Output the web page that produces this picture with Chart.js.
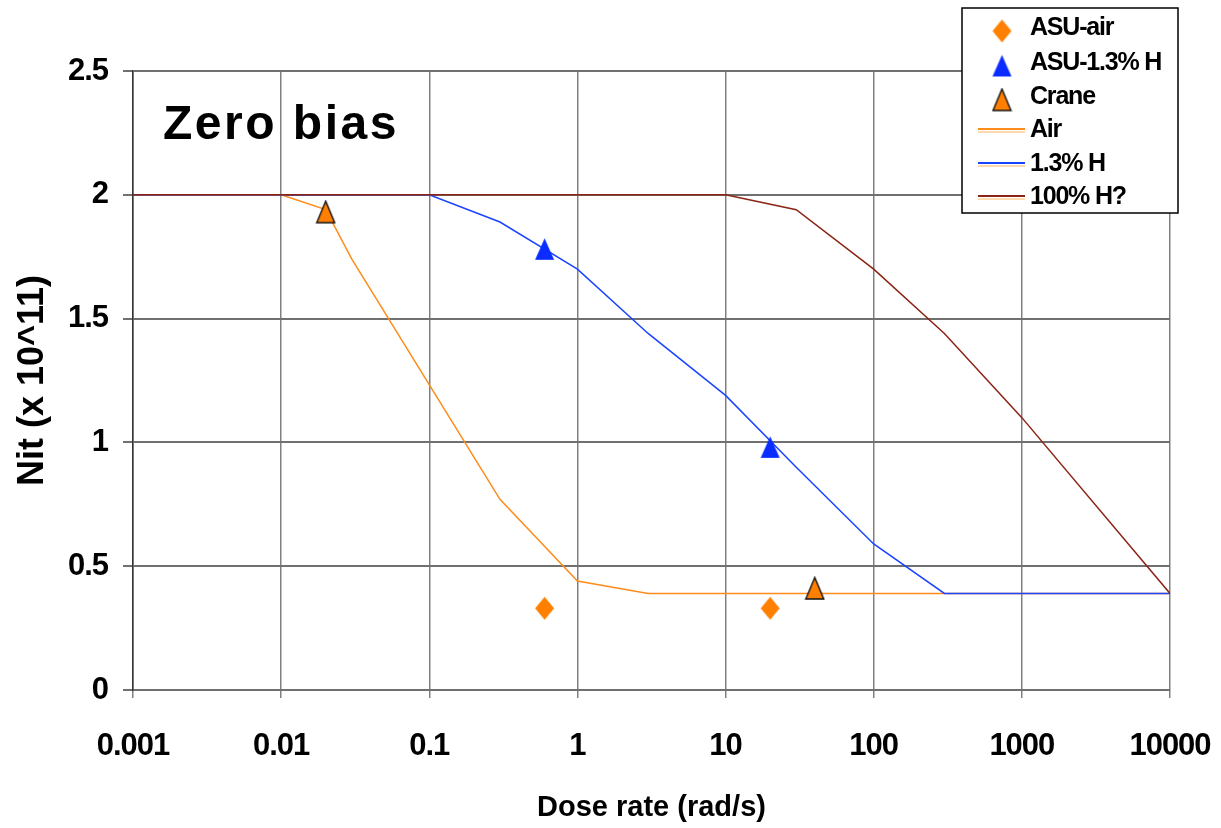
<!DOCTYPE html>
<html>
<head>
<meta charset="utf-8">
<script src="https://cdn.jsdelivr.net/npm/chart.js@4/dist/chart.umd.min.js"></script>
<style>
html,body{margin:0;padding:0;background:#fff;}
#wrap{width:1221px;height:828px;position:relative;}
</style>
</head>
<body>
<div id="wrap"><canvas id="c" width="1221" height="828"></canvas></div>
<script>
// ---- data ----
const doseTicks = [0.001, 0.01, 0.1, 1, 10, 100, 1000, 10000];
const xTickLabels = ['0.001', '0.01', '0.1', '1', '10', '100', '1000', '10000'];
const yTickLabels = ['0', '0.5', '1', '1.5', '2', '2.5'];

const asuAirX = [0.6, 20];
const asuAirY = [0.33, 0.33];
const asuH13X = [0.6, 20];
const asuH13Y = [1.78, 0.98];
const craneX = [0.02, 40];
const craneY = [1.93, 0.41];

const airX = [0.001, 0.01, 0.02, 0.03, 0.3, 1, 3, 10000];
const airY = [2, 2, 1.94, 1.74, 0.77, 0.44, 0.39, 0.39];
const h13X = [0.001, 0.1, 0.3, 1, 3, 10, 30, 100, 300, 10000];
const h13Y = [2, 2, 1.89, 1.70, 1.44, 1.19, 0.90, 0.59, 0.39, 0.39];
const h100X = [0.001, 10, 30, 100, 300, 1000, 10000];
const h100Y = [2, 2, 1.94, 1.70, 1.44, 1.10, 0.39];

const seriesNames = ['ASU-air', 'ASU-1.3% H', 'Crane', 'Air', '1.3% H', '100% H?'];
const chartTitle = 'Zero bias';
const xTitle = 'Dose rate (rad/s)';
const yTitle = 'Nit (x 10^11)';

// ---- styling ----
const ORANGE = '#FF8000';
const BLUE = '#0A2CFF';
const L_ORANGE = '#FF8C1A';
const L_BLUE = '#1A44FF';
const L_BROWN = '#8B2415';
const REG = "'Liberation Sans', Arial, sans-serif";

// tighter letter spacing for tick labels (reference uses a condensed face)
const origDrawLabels = Chart.Scale.prototype.drawLabels;
Chart.Scale.prototype.drawLabels = function (area) {
  const ctx = this.ctx;
  ctx.save();
  try { ctx.letterSpacing = '-1px'; } catch (e) {}
  origDrawLabels.call(this, area);
  ctx.restore();
};

function pts(xs, ys) { return xs.map((x, i) => ({x: x, y: ys[i]})); }

function makeMarker(kind) {
  const c = document.createElement('canvas');
  const w = 21, h = 25;
  c.width = w; c.height = h;
  const g = c.getContext('2d');
  g.beginPath();
  if (kind === 'diamond') {
    g.moveTo(w / 2, 1); g.lineTo(w - 1, h / 2); g.lineTo(w / 2, h - 1); g.lineTo(1, h / 2);
    g.closePath();
    g.fillStyle = ORANGE; g.fill();
  } else if (kind === 'blueTri') {
    g.moveTo(w / 2, 1.5); g.lineTo(w - 1, h - 2); g.lineTo(1, h - 2);
    g.closePath();
    g.fillStyle = BLUE; g.fill();
  } else {
    g.moveTo(w / 2, 1.5); g.lineTo(w - 1.5, h - 2); g.lineTo(1.5, h - 2);
    g.closePath();
    g.fillStyle = ORANGE; g.fill();
    g.lineWidth = 1.4; g.strokeStyle = '#111'; g.stroke();
  }
  return c;
}
const mkDiamond = makeMarker('diamond');
const mkBlueTri = makeMarker('blueTri');
const mkCrane = makeMarker('crane');

const overlay = {
  id: 'overlay',
  afterDraw(chart) {
    const ctx = chart.ctx;
    ctx.save();
    // title inside plot
    ctx.fillStyle = '#000';
    ctx.font = 'bold 48px ' + REG;
    ctx.textBaseline = 'alphabetic';
    ctx.textAlign = 'left';
    try { ctx.letterSpacing = '2.5px'; } catch (e) {}
    ctx.fillText(chartTitle, 163, 139);
    try { ctx.letterSpacing = '0px'; } catch (e) {}

    // legend box
    const bx = 962, by = 8, bw = 216, bh = 205;
    ctx.fillStyle = '#fff';
    ctx.fillRect(bx, by, bw, bh);
    ctx.lineWidth = 1.5;
    ctx.strokeStyle = '#000';
    ctx.strokeRect(bx, by, bw, bh);

    const rows = [27, 62, 96, 129, 163, 196];
    const markers = [mkDiamond, mkBlueTri, mkCrane];
    const lineCols = [L_ORANGE, L_BLUE, L_BROWN];
    ctx.font = 'bold 25px ' + REG;
    ctx.textBaseline = 'middle';
    ctx.textAlign = 'left';
    for (let i = 0; i < 6; i++) {
      const y = rows[i];
      if (i < 3) {
        const m = markers[i];
        ctx.drawImage(m, 1002 - m.width / 2, y + 4 - m.height / 2);
      } else {
        ctx.lineWidth = 1.8;
        ctx.strokeStyle = '#FFD9B0';
        ctx.beginPath(); ctx.moveTo(978, y + 3); ctx.lineTo(1025, y + 3); ctx.stroke();
        ctx.strokeStyle = lineCols[i - 3];
        ctx.beginPath(); ctx.moveTo(978, y); ctx.lineTo(1025, y); ctx.stroke();
      }
      ctx.fillStyle = '#000';
      try { ctx.letterSpacing = '-1.2px'; } catch (e) {}
      ctx.fillText(seriesNames[i], 1030, y + 1);
    }
    ctx.restore();
  }
};

new Chart(document.getElementById('c'), {
  type: 'scatter',
  data: {
    datasets: [
      {label: seriesNames[0], data: pts(asuAirX, asuAirY), pointStyle: mkDiamond, showLine: false, order: 0},
      {label: seriesNames[1], data: pts(asuH13X, asuH13Y), pointStyle: mkBlueTri, showLine: false, order: 0},
      {label: seriesNames[2], data: pts(craneX, craneY), pointStyle: mkCrane, showLine: false, order: 0},
      {label: seriesNames[3], data: pts(airX, airY), showLine: true, borderColor: L_ORANGE, borderWidth: 1.5, pointRadius: 0, order: 3},
      {label: seriesNames[4], data: pts(h13X, h13Y), showLine: true, borderColor: L_BLUE, borderWidth: 1.5, pointRadius: 0, order: 2},
      {label: seriesNames[5], data: pts(h100X, h100Y), showLine: true, borderColor: L_BROWN, borderWidth: 1.5, pointRadius: 0, order: 1}
    ]
  },
  options: {
    responsive: false,
    animation: false,
    events: [],
    layout: {padding: {top: 71, right: 51, left: 0, bottom: 0}},
    plugins: {legend: {display: false}, tooltip: {enabled: false}, title: {display: false}},
    elements: {line: {tension: 0}, point: {radius: 10}},
    scales: {
      x: {
        type: 'logarithmic',
        min: 0.001, max: 10000,
        afterBuildTicks: s => { s.ticks = doseTicks.map(v => ({value: v})); },
        afterFit: s => { s.height = 138; s.paddingLeft = 0; s.paddingRight = 0; },
        ticks: {
          autoSkip: false, maxRotation: 0, minRotation: 0,
          color: '#000', padding: 30,
          font: {family: REG, size: 31, weight: 'bold'},
          callback: (v, i) => xTickLabels[i]
        },
        grid: {color: '#808080', lineWidth: 1.5, tickLength: 8},
        border: {color: '#707070', width: 2},
        title: {display: true, text: xTitle, color: '#000',
                font: {family: REG, size: 29, weight: 'bold'}, padding: {top: 0, bottom: 3}}
      },
      y: {
        min: 0, max: 2.5,
        afterBuildTicks: s => { s.ticks = yTickLabels.map(t => ({value: parseFloat(t)})); },
        afterFit: s => { s.width = 133; s.paddingTop = 0; s.paddingBottom = 0; },
        ticks: {
          color: '#000', padding: 15,
          font: {family: REG, size: 31, weight: 'bold'},
          callback: (v, i) => yTickLabels[i]
        },
        grid: {color: '#707070', lineWidth: 2, tickLength: 10},
        border: {color: '#333', width: 1.5},
        title: {display: true, text: yTitle, color: '#000',
                font: {family: REG, size: 36, weight: 'bold'}, padding: {top: 11, bottom: 0}}
      }
    }
  },
  plugins: [overlay]
});
</script>
</body>
</html>
